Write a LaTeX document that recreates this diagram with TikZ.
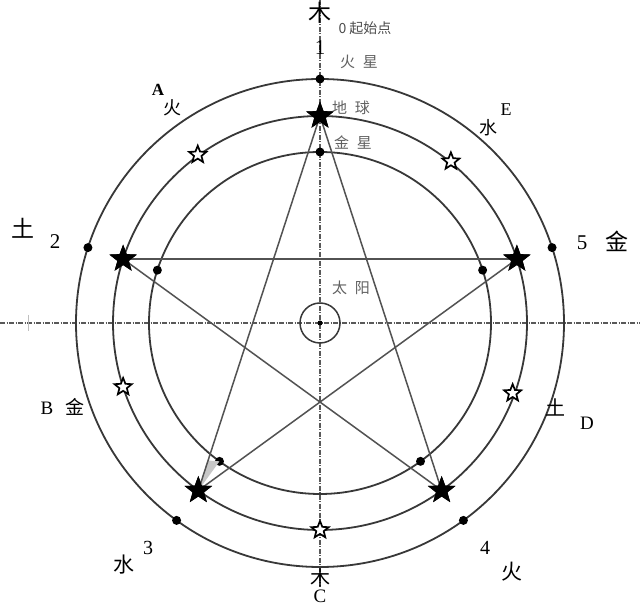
\documentclass[tikz,border=0pt]{standalone}
\usepackage{fontspec}
\setmainfont{Liberation Serif}
\newfontfamily\cjk{Noto Sans CJK SC}
\usetikzlibrary{shapes.geometric,calc}
\tikzset{
 orb/.style={draw=black!78, line width=1.8pt},
 axisline/.style={draw=black!65, line width=1.1pt, dash pattern=on 5pt off 1.5pt on 1pt off 1.5pt},
 bigstar/.style={star, star points=5, star point ratio=2.4, fill=black, inner sep=0pt, minimum size=29pt},
 hstar/.style={star, star points=5, star point ratio=2.3, draw=black, line width=1.7pt, fill=white, inner sep=0pt, minimum size=18pt},
 pdot/.style={circle, fill=black, inner sep=0pt, minimum size=9pt},
 link/.style={draw=black!68, line width=1.5pt},
 blbl/.style={text=black, font=\cjk\fontsize{21}{21}\selectfont, inner sep=0pt},
 nlbl/.style={text=black, font=\fontsize{20}{20}\selectfont, inner sep=0pt},
 glbl/.style={text=black!62, font=\cjk\fontsize{15}{15}\selectfont, inner sep=0pt}
}
\begin{document}
\begin{tikzpicture}[x=1pt,y=1pt]
\useasboundingbox (0,0) rectangle (640,605);
\fill[white] (0,0) rectangle (640,605);
\coordinate (O) at (320,282);
\coordinate (hl) at (0,282);
\coordinate (hr) at (640,282);
\coordinate (vt) at (320,605);
\coordinate (vb) at (320,18);
% axes
\draw[axisline] (hl) -- (hr);
\draw[axisline] (vt) -- (vb);
\coordinate (tk1) at (28,290);
\coordinate (tk2) at (28,274);
\draw[black!25, line width=0.8pt] (tk1) -- (tk2);
% orbits
\draw[orb] (O) circle[radius=244pt];
\draw[orb] (O) circle[radius=207pt];
\draw[orb] (O) circle[radius=171pt];
\draw[orb, line width=1.5pt] (O) circle[radius=20pt];
\node[circle, fill=black, inner sep=0pt, minimum size=5pt] (sun) at (O) {};
% filled stars on the middle orbit
\node[bigstar] (s1) at ($(O)+(90:207pt)$) {};
\node[bigstar] (s2) at ($(O)+(162:207pt)$) {};
\node[bigstar] (s3) at ($(O)+(234:207pt)$) {};
\node[bigstar] (s4) at ($(O)+(306:207pt)$) {};
\node[bigstar] (s5) at ($(O)+(18:207pt)$) {};
% outer and inner dots
\node[pdot] (o1) at ($(O)+(90:244pt)$) {};
\node[pdot] (o2) at ($(O)+(162:244pt)$) {};
\node[pdot] (o3) at ($(O)+(234:244pt)$) {};
\node[pdot] (o4) at ($(O)+(306:244pt)$) {};
\node[pdot] (o5) at ($(O)+(18:244pt)$) {};
\node[pdot] (i1) at ($(O)+(90:171pt)$) {};
\node[pdot] (i2) at ($(O)+(162:171pt)$) {};
\node[pdot] (i3) at ($(O)+(234:171pt)$) {};
\node[pdot] (i4) at ($(O)+(306:171pt)$) {};
\node[pdot] (i5) at ($(O)+(18:171pt)$) {};
% pentagram
\fill[black!22] (s3.center) -- ($(s1.center)!0.92!(s3.center)$) -- (i3.center) -- cycle;
\draw[link] (s1.center) -- (s3.center);
\draw[link] (s1.center) -- (s4.center);
\draw[link] (s2.center) -- (s5.center);
\draw[link] (s2.center) -- (s4.center);
\draw[link] (s5.center) -- (s3.center);
% redraw stars on top
\foreach \n/\a in {s1/90,s2/162,s3/234,s4/306,s5/18}{\node[bigstar] at ($(O)+(\a:207pt)$) {};}
% hollow stars
\node[hstar] (h1) at ($(O)+(126:208pt)$) {};
\node[hstar] (h2) at ($(O)+(51:208pt)$) {};
\node[hstar] (h3) at ($(O)+(198:207pt)$) {};
\node[hstar] (h4) at ($(O)+(340:205pt)$) {};
\node[hstar] (h5) at ($(O)+(270:207pt)$) {};
% labels top
\node[blbl, font=\cjk\fontsize{23}{23}\selectfont] (mtop) at (320,592) {木};
\node[glbl, text=black!70, font=\cjk\fontsize{14}{14}\selectfont] (start) at (365,577) {0 起始点};
\node[nlbl, font=\fontsize{21}{21}\selectfont] (n1) at (320,557) {1};
\node[glbl] (mars) at (359,543) {火\hspace{8pt}星};
\node[glbl] (earth) at (351,497) {地\hspace{8pt}球};
\node[glbl] (venus) at (353,462) {金\hspace{8pt}星};
\node[glbl] (sunl) at (351,317) {太\hspace{8pt}阳};
% labels around
\node[nlbl, font=\fontsize{17}{17}\selectfont\bfseries] (la) at (158,515) {A};
\node[blbl, font=\cjk\fontsize{18}{18}\selectfont] (lah) at (172,497) {火};
\node[nlbl, font=\fontsize{18}{18}\selectfont] (le) at (506,495) {E};
\node[blbl, font=\cjk\fontsize{18}{18}\selectfont] (les) at (488,477) {水};
\node[blbl, font=\cjk\fontsize{23}{23}\selectfont] (l2t) at (23,377) {土};
\node[nlbl, font=\fontsize{21}{21}\selectfont] (l2) at (55,363) {2};
\node[nlbl, font=\fontsize{21}{21}\selectfont] (l5) at (582,362) {5};
\node[blbl, font=\cjk\fontsize{23}{23}\selectfont] (l5j) at (617,364) {金};
\node[nlbl, font=\fontsize{19}{19}\selectfont] (lb) at (47,197) {B};
\node[blbl, font=\cjk\fontsize{19}{19}\selectfont] (lbj) at (75,198) {金};
\node[blbl, font=\cjk\fontsize{20}{20}\selectfont] (ldt) at (555,198) {土};
\node[nlbl, font=\fontsize{19}{19}\selectfont] (ld) at (587,182) {D};
\node[blbl] (l3s) at (124,40) {水};
\node[nlbl] (l3) at (148,57) {3};
\node[nlbl] (l4) at (485,57) {4};
\node[blbl] (l4h) at (512,33) {火};
\node[blbl, font=\cjk\fontsize{20}{20}\selectfont] (mbot) at (320,27) {木};
\node[nlbl, font=\fontsize{19}{19}\selectfont] (lc) at (320,9) {C};
\end{tikzpicture}
\end{document}
